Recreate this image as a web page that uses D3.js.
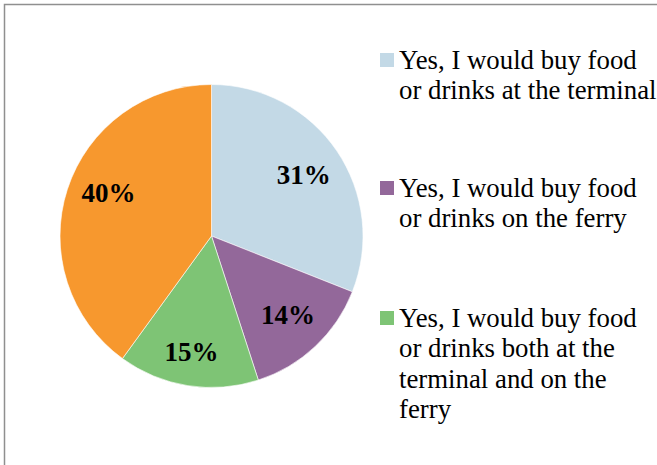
<!DOCTYPE html>
<html>
<head>
<meta charset="utf-8">
<script src="https://cdn.jsdelivr.net/npm/d3@7"></script>
<style>
  html, body { margin: 0; padding: 0; background: #fff; }
  svg { display: block; }
</style>
</head>
<body>
<svg id="chart" width="657" height="465"></svg>
<script>
// Survey answers, clockwise from 12 o'clock
const categories = [
  ["Yes, I would buy food", "or drinks at the terminal"],
  ["Yes, I would buy food", "or drinks on the ferry"],
  ["Yes, I would buy food", "or drinks both at the", "terminal and on the", "ferry"]
];
const values = [31, 14, 15, 40];
const labels = ["31%", "14%", "15%", "40%"];
const colors = ["#c3d9e6", "#93689a", "#7ec475", "#f7982e"];
// Legend shows the first three answers only
const legendCount = 3;

const svg = d3.select("#chart");

// Outer frame (runs off the right and bottom edges)
svg.append("rect")
  .attr("x", 4.5).attr("y", 4.5)
  .attr("width", 700).attr("height", 500)
  .attr("fill", "#fff")
  .attr("stroke", "#8f8f8f")
  .attr("stroke-width", 1.5);

const cx = 211.5, cy = 236, radius = 151.5;

const pie = d3.pie().sort(null).value(d => d)(values);
const arc = d3.arc().innerRadius(0).outerRadius(radius);

const g = svg.append("g").attr("transform", `translate(${cx},${cy})`);

g.selectAll("path.slice")
  .data(pie)
  .join("path")
  .attr("class", "slice")
  .attr("d", arc)
  .attr("fill", (d, i) => colors[i])
  .attr("stroke", "#fff")
  .attr("stroke-width", 0.6);

// Percentage labels placed inside slices, nudged per slice
const labelArc = d3.arc().innerRadius(radius * 0.68).outerRadius(radius * 0.68);
const labelOffsets = [[7, -3], [6, 4], [-4, 14], [-5, -11]];
g.selectAll("text.pct")
  .data(pie)
  .join("text")
  .attr("class", "pct")
  .attr("transform", (d, i) => {
    const [x, y] = labelArc.centroid(d);
    return `translate(${x + labelOffsets[i][0]},${y + labelOffsets[i][1]})`;
  })
  .attr("text-anchor", "middle")
  .attr("dominant-baseline", "central")
  .attr("font-family", "'Liberation Serif', 'Times New Roman', serif")
  .attr("font-weight", "bold")
  .attr("font-size", 27)
  .attr("fill", "#000")
  .text((d, i) => labels[i]);

// Legend
const legendX = 380, textX = 399, lineH = 30.3;
const legendTops = [69, 197, 327];
const legend = svg.selectAll("g.legend")
  .data(categories.slice(0, legendCount))
  .join("g")
  .attr("class", "legend");

legend.append("rect")
  .attr("x", legendX)
  .attr("y", (d, i) => legendTops[i] - 16)
  .attr("width", 14)
  .attr("height", 14)
  .attr("fill", (d, i) => colors[i]);

legend.append("text")
  .attr("font-family", "'Liberation Serif', 'Times New Roman', serif")
  .attr("font-size", 26.8)
  .attr("fill", "#000")
  .each(function (lines, i) {
    d3.select(this).selectAll("tspan")
      .data(lines)
      .join("tspan")
      .attr("x", textX)
      .attr("y", (l, j) => legendTops[i] + j * lineH)
      .text(l => l);
  });
</script>
</body>
</html>
